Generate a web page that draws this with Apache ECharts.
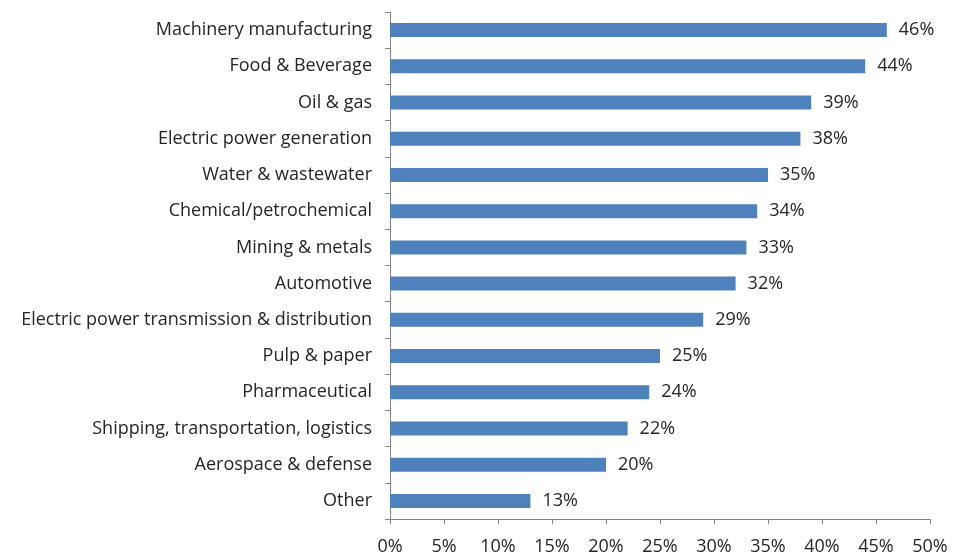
<!DOCTYPE html>
<html>
<head>
<meta charset="utf-8">
<script src="https://cdn.jsdelivr.net/npm/echarts@6/dist/echarts.min.js"></script>
<style>
  html, body { margin: 0; padding: 0; background: #fff; }
  #chart { width: 957px; height: 556px; }
</style>
</head>
<body>
<div id="chart"></div>
<script>
// Industries, listed top to bottom
const industries = [
  'Machinery manufacturing',
  'Food & Beverage',
  'Oil & gas',
  'Electric power generation',
  'Water & wastewater',
  'Chemical/petrochemical',
  'Mining & metals',
  'Automotive',
  'Electric power transmission & distribution',
  'Pulp & paper',
  'Pharmaceutical',
  'Shipping, transportation, logistics',
  'Aerospace & defense',
  'Other'
];
// Share of respondents, percent
const shares = [46, 44, 39, 38, 35, 34, 33, 32, 29, 25, 24, 22, 20, 13];
// Value axis ticks, percent
const axisMin = 0;
const axisMax = 50;
const axisStep = 5;

const font = '"Open Sans", "Liberation Sans", sans-serif';
const textColor = '#262626';
const chart = echarts.init(document.getElementById('chart'));
chart.setOption({
  animation: false,
  grid: { left: 390, right: 27, top: 12, bottom: 36, containLabel: false },
  xAxis: {
    type: 'value',
    min: axisMin, max: axisMax, interval: axisStep,
    splitLine: { show: false },
    axisLine: { show: true, lineStyle: { color: '#868686', width: 1 } },
    axisTick: { show: true, length: 5, lineStyle: { color: '#868686' } },
    axisLabel: {
      formatter: '{value}%', color: textColor, fontFamily: font, fontSize: 18, margin: 19
    }
  },
  yAxis: {
    type: 'category',
    inverse: true,
    data: industries,
    axisLine: { show: true, lineStyle: { color: '#868686', width: 1 } },
    axisTick: { show: true, length: 5, inside: false, lineStyle: { color: '#868686' } },
    axisLabel: { color: textColor, fontFamily: font, fontSize: 18, margin: 18 }
  },
  series: [{
    type: 'bar',
    data: shares,
    barWidth: 14,
    itemStyle: { color: '#4F81BD' },
    label: {
      show: true, position: 'right', distance: 12,
      formatter: '{c}%', color: textColor, fontFamily: font, fontSize: 18
    }
  }]
});
</script>
</body>
</html>
